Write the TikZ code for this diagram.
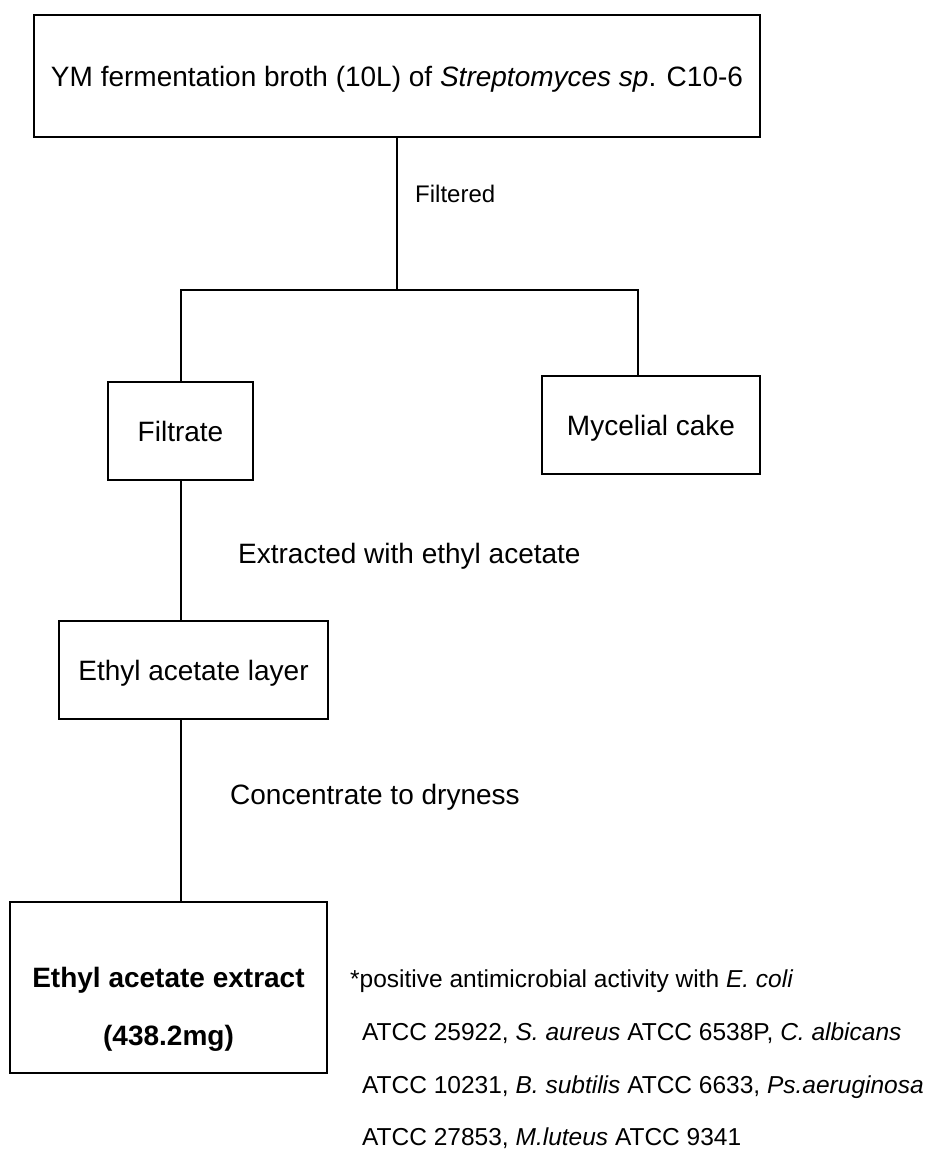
\documentclass[tikz,border=0pt]{standalone}
\usepackage{fontspec}
\setmainfont{Liberation Sans}

\tikzset{
  flowbox/.style={draw, line width=2pt, inner sep=0pt, text height=20pt, text depth=0pt,
    font=\fontsize{28}{34}\selectfont},
  steplabel/.style={anchor=west, inner sep=0pt, text height=20pt, text depth=0pt,
    font=\fontsize{28}{34}\selectfont},
  notetext/.style={anchor=base west, inner sep=0pt, font=\fontsize{24.5}{30}\selectfont},
  link/.style={line width=2pt},
}

\begin{document}
\begin{tikzpicture}[x=1pt,y=-1pt]
\useasboundingbox (0,0) rectangle (933,1152);
% fermentation broth and the split after filtering
\node[flowbox, minimum width=726pt, minimum height=122pt] (broth) at (397,76)
  {YM fermentation broth (10L) of \textit{Streptomyces sp}. C10-6};
\coordinate (split) at (397,290);
\node[flowbox, minimum width=145pt, minimum height=98pt] (filtrate) at (180.5,431) {Filtrate};
\node[flowbox, minimum width=218pt, minimum height=98pt] (cake) at (651,425) {Mycelial cake};
% extraction steps
\node[flowbox, minimum width=269pt, minimum height=98pt] (layer) at (193.5,670) {Ethyl acetate layer};
\node[flowbox, minimum width=317pt, minimum height=171pt] (extract) at (168.5,987.5) {};
\node[flowbox, draw=none] (extractname) at (168.5,977) {\bfseries Ethyl acetate extract};
\node[flowbox, draw=none] (extractmass) at (168.5,1035) {\bfseries (438.2mg)};
% connectors
\draw[link] (broth.south) -- (split);
\draw[link] (split) -| (filtrate.north);
\draw[link] (split) -| ([xshift=-13pt]cake.north);
\draw[link] (filtrate.south) -- (filtrate.south |- layer.north);
\draw[link] (filtrate.south |- layer.south) -- (filtrate.south |- extract.north);
% step labels
\node[steplabel, font=\fontsize{24}{30}\selectfont] (filtered) at (415,192) {Filtered};
\node[steplabel] (extracted) at (238,553) {Extracted with ethyl acetate};
\node[steplabel] (concentrate) at (230,794) {Concentrate to dryness};
% activity note
\node[notetext] (note1) at (350,987) {*positive antimicrobial activity with \textit{E. coli}};
\node[notetext] (note2) at (362,1040) {ATCC 25922, \textit{S. aureus} ATCC 6538P, \textit{C. albicans}};
\node[notetext] (note3) at (362,1093) {ATCC 10231, \textit{B. subtilis} ATCC 6633, \textit{Ps.aeruginosa}};
\node[notetext] (note4) at (362,1145) {ATCC 27853, \textit{M.luteus} ATCC 9341};
\end{tikzpicture}
\end{document}
